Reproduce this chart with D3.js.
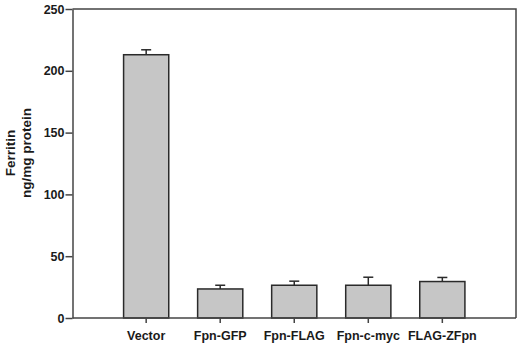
<!DOCTYPE html>
<html>
<head>
<meta charset="utf-8">
<script src="https://cdn.jsdelivr.net/npm/d3@7"></script>
<style>
  body { margin: 0; background: #fff; }
  text { font-family: "Liberation Sans", Arial, sans-serif; font-weight: bold; fill: #1a1a1a; }
</style>
</head>
<body>
<div id="chart"></div>
<script>
// values
var groups = ['Vector', 'Fpn-GFP', 'Fpn-FLAG', 'Fpn-c-myc', 'FLAG-ZFpn'];
var ferritin = [213, 23.5, 26.5, 26.5, 29.5];
var errUp = [4, 3, 3.3, 6.5, 3.3];
var yTicks = [0, 50, 100, 150, 200, 250];

var width = 520, height = 344,
    margin = {top: 9, right: 4, bottom: 26, left: 72.5};

var svg = d3.select('#chart').append('svg')
    .attr('width', width)
    .attr('height', height);

var x = d3.scaleBand()
    .domain(groups)
    .range([margin.left, width - margin.right])
    .paddingInner(0.39)
    .paddingOuter(0.69);

var y = d3.scaleLinear()
    .domain([0, 250])
    .range([height - margin.bottom, margin.top]);

// frame (top + right)
svg.append('path')
    .attr('d', 'M' + margin.left + ',' + y(250) + 'H' + (width - margin.right) + 'V' + y(0))
    .attr('fill', 'none')
    .attr('stroke', '#444')
    .attr('stroke-width', 1.5);

// bars
svg.selectAll('.bar')
    .data(groups)
    .enter().append('rect')
    .attr('class', 'bar')
    .attr('x', function (d) { return x(d); })
    .attr('y', function (d, i) { return y(ferritin[i]); })
    .attr('width', x.bandwidth())
    .attr('height', function (d, i) { return y(0) - y(ferritin[i]); })
    .attr('fill', '#c6c6c6')
    .attr('stroke', '#2a2a2a')
    .attr('stroke-width', 1.5);

// error bars (upper only)
var eb = svg.selectAll('.err')
    .data(groups)
    .enter().append('g')
    .attr('class', 'err')
    .attr('stroke', '#2a2a2a')
    .attr('stroke-width', 1.5);

eb.append('line')
    .attr('x1', function (d) { return x(d) + x.bandwidth() / 2; })
    .attr('x2', function (d) { return x(d) + x.bandwidth() / 2; })
    .attr('y1', function (d, i) { return y(ferritin[i]); })
    .attr('y2', function (d, i) { return y(ferritin[i] + errUp[i]); });

eb.append('line')
    .attr('x1', function (d) { return x(d) + x.bandwidth() / 2 - 5; })
    .attr('x2', function (d) { return x(d) + x.bandwidth() / 2 + 5; })
    .attr('y1', function (d, i) { return y(ferritin[i] + errUp[i]); })
    .attr('y2', function (d, i) { return y(ferritin[i] + errUp[i]); });

// axes
var xAxis = d3.axisBottom(x).tickSize(5).tickPadding(8).tickSizeOuter(0);
var yAxis = d3.axisLeft(y).tickValues(yTicks).tickSize(7).tickPadding(1).tickSizeOuter(0);

var gX = svg.append('g')
    .attr('transform', 'translate(0,' + y(0) + ')')
    .call(xAxis);
gX.select('.domain').attr('d', 'M' + margin.left + ',0H' + (width - margin.right));

var gY = svg.append('g')
    .attr('transform', 'translate(' + margin.left + ',0)')
    .call(yAxis);

svg.selectAll('.domain, .tick line')
    .attr('stroke', '#444')
    .attr('stroke-width', 1.5);
svg.selectAll('.tick text')
    .attr('font-size', 12.5)
    .attr('font-family', '"Liberation Sans", Arial, sans-serif')
    .attr('fill', '#1a1a1a');

// y title, two lines
var title = svg.append('text')
    .attr('transform', 'translate(15,153) rotate(-90)')
    .attr('text-anchor', 'middle')
    .attr('font-size', 13.5);
title.append('tspan').attr('x', 0).attr('dy', 0).text('Ferritin');
title.append('tspan').attr('x', 0).attr('dy', 16).text('ng/mg protein');
</script>
</body>
</html>
